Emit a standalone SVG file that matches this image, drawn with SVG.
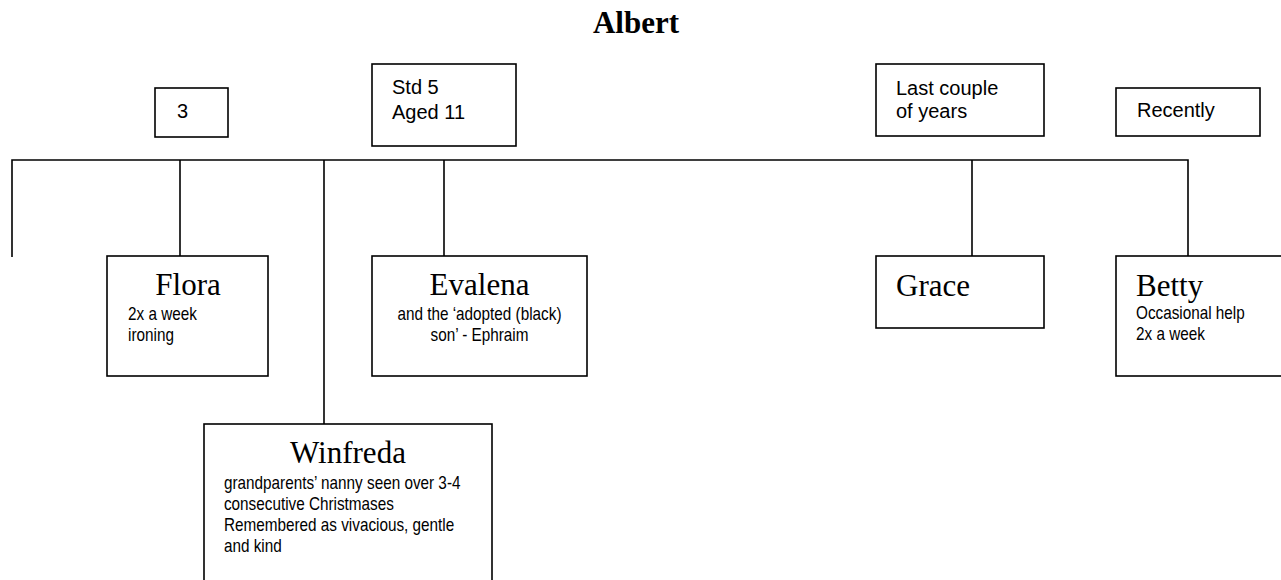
<svg xmlns="http://www.w3.org/2000/svg" width="1281" height="580" viewBox="0 0 1281 580">
<style>
.box{fill:#fff;stroke:#000;stroke-width:1.6}
.ln{fill:none;stroke:#000;stroke-width:1.6}
.name{font-family:"Liberation Serif","Times New Roman",serif;font-size:31px;fill:#000}
.lbl{font-family:"Liberation Sans",Arial,sans-serif;font-size:20px;fill:#000}
.sub{font-family:"Liberation Sans",Arial,sans-serif;font-size:18px;fill:#000}
.title{font-family:"Liberation Serif","Times New Roman",serif;font-size:31px;font-weight:bold;fill:#000}
</style>
<rect width="1281" height="580" fill="#fff"/>
<text class="title" x="636" y="33" text-anchor="middle">Albert</text>
<g id="connectors">
<path class="ln" d="M12,257 V160 H1188 V256"/>
<path class="ln" d="M180,160 V256"/>
<path class="ln" d="M324,160 V424"/>
<path class="ln" d="M444,160 V256"/>
<path class="ln" d="M972,160 V256"/>
</g>
<g id="lbl-3">
<rect class="box" x="155" y="88" width="73" height="49"/>
<text class="lbl" x="177" y="118">3</text>
</g>
<g id="lbl-std5">
<rect class="box" x="372" y="64" width="144" height="82"/>
<text class="lbl" x="392" y="94">Std 5</text>
<text class="lbl" x="392" y="119">Aged 11</text>
</g>
<g id="lbl-lastcouple">
<rect class="box" x="876" y="64" width="168" height="72"/>
<text class="lbl" x="896" y="95">Last couple</text>
<text class="lbl" x="896" y="118">of years</text>
</g>
<g id="lbl-recently">
<rect class="box" x="1116" y="88" width="144" height="48"/>
<text class="lbl" x="1137" y="117">Recently</text>
</g>
<g id="flora">
<rect class="box" x="107" y="256" width="161" height="120"/>
<text class="name" x="188" y="295" text-anchor="middle">Flora</text>
<g transform="scale(0.85 1)">
<text class="sub" x="150.6" y="320">2x a week</text>
<text class="sub" x="150.6" y="341">ironing</text>
</g>
</g>
<g id="evalena">
<rect class="box" x="372" y="256" width="215" height="120"/>
<text class="name" x="479.5" y="295" text-anchor="middle">Evalena</text>
<g transform="scale(0.85 1)">
<text class="sub" x="564.1" y="320" text-anchor="middle">and the ‘adopted (black)</text>
<text class="sub" x="564.1" y="341" text-anchor="middle">son’ - Ephraim</text>
</g>
</g>
<g id="winfreda">
<rect class="box" x="204" y="424" width="288" height="170"/>
<text class="name" x="348" y="463" text-anchor="middle">Winfreda</text>
<g transform="scale(0.85 1)">
<text class="sub" x="263.5" y="489">grandparents’ nanny seen over 3-4</text>
<text class="sub" x="263.5" y="510">consecutive Christmases</text>
<text class="sub" x="263.5" y="531">Remembered as vivacious, gentle</text>
<text class="sub" x="263.5" y="552">and kind</text>
</g>
</g>
<g id="grace">
<rect class="box" x="876" y="256" width="168" height="72"/>
<text class="name" x="896" y="296">Grace</text>
</g>
<g id="betty">
<rect class="box" x="1116" y="256" width="180" height="120"/>
<text class="name" x="1136" y="296">Betty</text>
<g transform="scale(0.85 1)">
<text class="sub" x="1336.5" y="319">Occasional help</text>
<text class="sub" x="1336.5" y="340">2x a week</text>
</g>
</g>
</svg>
